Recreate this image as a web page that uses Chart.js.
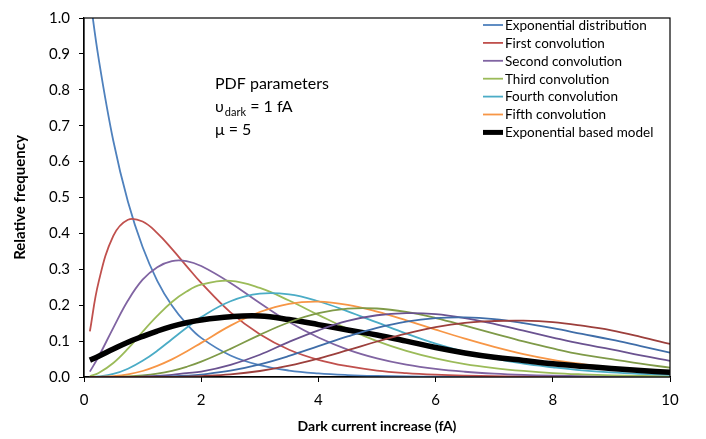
<!DOCTYPE html>
<html>
<head>
<meta charset="utf-8">
<script src="https://cdn.jsdelivr.net/npm/chart.js@4.4.0/dist/chart.umd.min.js"></script>
<style>
  html, body { margin: 0; padding: 0; background: #fff; }
  #wrap { width: 706px; height: 439px; }
</style>
</head>
<body>
<div id="wrap"><canvas id="chart"></canvas></div>
<script>
// x positions (fA) shared by every series
const xValues = [0.1, 0.25, 0.5, 0.75, 1, 1.25, 1.5, 1.75, 2, 2.5, 3, 3.5, 4, 4.5, 5, 5.5, 6, 6.5, 7, 7.5, 8, 8.5, 9, 9.5, 10];

// values
const expDist    = [1.061, 0.887, 0.658, 0.488, 0.362, 0.268, 0.199, 0.148, 0.109, 0.060, 0.033, 0.018, 0.010, 0.0055, 0.003, 0.0017, 0.0009, 0.0005, 0.0003, 0.0002, 0.0001, 0, 0, 0, 0];
const firstConv  = [0.127, 0.265, 0.393, 0.438, 0.433, 0.401, 0.357, 0.309, 0.262, 0.180, 0.119, 0.076, 0.048, 0.030, 0.018, 0.011, 0.0066, 0.0039, 0.0023, 0.0014, 0.0008, 0.0005, 0.0003, 0.0002, 0.0001];
const secondConv = [0.015, 0.057, 0.137, 0.213, 0.271, 0.306, 0.323, 0.323, 0.309, 0.262, 0.206, 0.153, 0.110, 0.0765, 0.052, 0.0345, 0.0225, 0.0146, 0.0093, 0.0058, 0.0036, 0.0023, 0.0014, 0.0009, 0.0005];
const thirdConv  = [0.002, 0.011, 0.039, 0.079, 0.126, 0.170, 0.209, 0.238, 0.257, 0.268, 0.248, 0.213, 0.173, 0.134, 0.100, 0.073, 0.052, 0.036, 0.025, 0.017, 0.011, 0.0073, 0.0048, 0.0031, 0.002];
const fourthConv = [0.0003, 0.0016, 0.0084, 0.023, 0.045, 0.073, 0.105, 0.137, 0.167, 0.211, 0.232, 0.230, 0.211, 0.183, 0.152, 0.121, 0.093, 0.070, 0.051, 0.037, 0.027, 0.0185, 0.0127, 0.0087, 0.0058];
const fifthConv  = [0, 0.0004, 0.0024, 0.0074, 0.0167, 0.031, 0.049, 0.071, 0.095, 0.143, 0.181, 0.204, 0.210, 0.201, 0.182, 0.158, 0.132, 0.107, 0.084, 0.064, 0.048, 0.036, 0.026, 0.0185, 0.013];
const modelCurve = [0.047, 0.058, 0.078, 0.097, 0.113, 0.128, 0.141, 0.151, 0.159, 0.168, 0.170, 0.160, 0.146, 0.131, 0.117, 0.100, 0.082, 0.067, 0.055, 0.046, 0.037, 0.030, 0.024, 0.018, 0.013];
// unlabelled higher convolutions
const sixthConv   = [0, 0, 0.0004, 0.0015, 0.0042, 0.0092, 0.0172, 0.0285, 0.0427, 0.0785, 0.1175, 0.1525, 0.1777, 0.1904, 0.1908, 0.1811, 0.1643, 0.1433, 0.121, 0.0992, 0.0794, 0.0621, 0.050, 0.037, 0.026];
const seventhConv = [0, 0, 0, 0.0002, 0.0012, 0.0029, 0.006, 0.011, 0.015, 0.034, 0.062, 0.098, 0.130, 0.156, 0.172, 0.178, 0.175, 0.164, 0.148, 0.129, 0.110, 0.092, 0.077, 0.060, 0.045];
const eighthConv  = [0, 0, 0, 0, 0.0002, 0.0007, 0.0017, 0.0036, 0.0069, 0.0175, 0.035, 0.0586, 0.0859, 0.113, 0.137, 0.1545, 0.164, 0.166, 0.161, 0.150, 0.136, 0.120, 0.104, 0.086, 0.068];
const ninthConv   = [0, 0, 0, 0, 0, 0.0001, 0.0004, 0.001, 0.0025, 0.0074, 0.0167, 0.0315, 0.0514, 0.0747, 0.0989, 0.121, 0.139, 0.151, 0.156, 0.157, 0.153, 0.143, 0.130, 0.112, 0.092];

const seriesLabels = ['Exponential distribution', 'First convolution', 'Second convolution', 'Third convolution',
                      'Fourth convolution', 'Fifth convolution', 'Exponential based model', '', '', '', ''];
const seriesData = [expDist, firstConv, secondConv, thirdConv, fourthConv, fifthConv, modelCurve,
                    sixthConv, seventhConv, eighthConv, ninthConv];
const seriesColors = ['#4f81bd', '#c0504d', '#8064a2', '#9bbb59', '#4bacc6', '#f79646', '#000000',
                      '#7f9a48', '#6a5290', '#3f6da8', '#9c3f3c'];

const FONT = 'Lato, "Open Sans", sans-serif';

const datasets = seriesData.map((vals, i) => ({
    label: seriesLabels[i],
    data: xValues.map((x, j) => ({ x: x, y: vals[j] })),
    borderColor: seriesColors[i],
    backgroundColor: seriesColors[i],
    borderWidth: i === 6 ? 5.5 : 1.8,
    pointRadius: 0,
    fill: false,
    tension: 0.4,
    order: seriesData.length - i // later series painted on top, like the original
}));

// plot frame, legend contents and the parameter note
const decorPlugin = {
    id: 'decor',
    afterDraw(chart) {
        const ctx = chart.ctx;
        const a = chart.chartArea;
        ctx.save();
        ctx.strokeStyle = '#000';
        ctx.lineWidth = 1.2;
        ctx.strokeRect(a.left, a.top, a.right - a.left, a.bottom - a.top);

        // legend
        ctx.font = '13.5px ' + FONT;
        ctx.textBaseline = 'middle';
        ctx.fillStyle = '#000';
        for (let i = 0; i < 7; i++) {
            const y = 25 + i * 17.9;
            ctx.strokeStyle = seriesColors[i];
            ctx.lineWidth = i === 6 ? 5 : 1.8;
            ctx.beginPath();
            ctx.moveTo(483, y);
            ctx.lineTo(503, y);
            ctx.stroke();
            ctx.fillText(seriesLabels[i], 505, y + 0.5);
        }

        // PDF parameters note
        ctx.font = '16px ' + FONT;
        ctx.fillText('PDF parameters', 215, 84);
        ctx.fillText('\u03c5', 215, 107);
        const w = ctx.measureText('\u03c5').width;
        ctx.font = '11px ' + FONT;
        ctx.fillText('dark', 215 + w + 1, 112);
        const w2 = ctx.measureText('dark').width;
        ctx.font = '16px ' + FONT;
        ctx.fillText(' = 1 fA', 215 + w + 1 + w2, 107);
        ctx.fillText('\u03bc = 5', 215, 130);
        ctx.restore();
    }
};

new Chart(document.getElementById('chart'), {
    type: 'line',
    data: { datasets: datasets },
    plugins: [decorPlugin],
    options: {
        responsive: true,
        maintainAspectRatio: false,
        animation: false,
        devicePixelRatio: 1,
        layout: { padding: { top: 10, right: 36, left: 0, bottom: 0 } },
        plugins: {
            legend: { display: false },
            tooltip: { enabled: false }
        },
        scales: {
            x: {
                type: 'linear',
                min: 0,
                max: 10,
                ticks: { stepSize: 2, color: '#000', font: { family: FONT, size: 15 }, padding: 9, maxRotation: 0 },
                grid: { drawOnChartArea: false, tickLength: 5, color: '#000' },
                border: { color: '#000', width: 1.2 },
                title: { display: true, text: 'Dark current increase (fA)', color: '#000',
                         font: { family: FONT, size: 14, weight: 'bold' }, padding: { top: 0, bottom: 4 } },
                afterFit: s => { s.height = 62; }
            },
            y: {
                min: 0,
                max: 1,
                ticks: { stepSize: 0.1, color: '#000', font: { family: FONT, size: 15 }, padding: 9,
                         callback: v => v.toFixed(1) },
                grid: { drawOnChartArea: false, tickLength: 5, color: '#000' },
                border: { color: '#000', width: 1.2 },
                title: { display: true, text: 'Relative frequency', color: '#000',
                         font: { family: FONT, size: 15, weight: 'bold' }, padding: { top: 11, bottom: 0 } },
                afterFit: s => { s.height = s.height; s.width = 84; }
            }
        }
    }
});
</script>
</body>
</html>
